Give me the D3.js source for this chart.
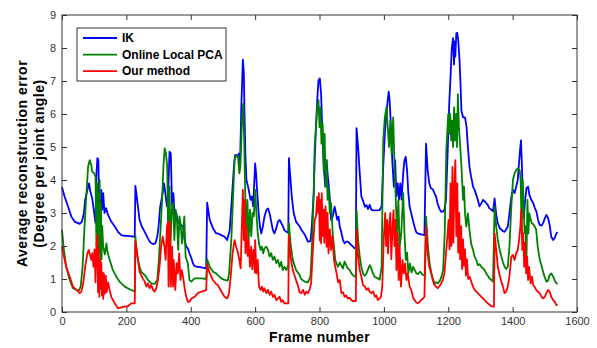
<!DOCTYPE html>
<html>
<head>
<meta charset="utf-8">
<script src="https://cdn.jsdelivr.net/npm/d3@7"></script>
<style>
  body { margin: 0; background: #fff; }
  svg text { font-family: "Liberation Sans", Arial, sans-serif; }
</style>
</head>
<body>
<div id="chart"></div>
<script>
// series: [frame, error]
const ik = [[0,3.78],[8,3.5],[19,3.19],[29,2.89],[39,2.74],[55,2.67],[62,2.74],[68,2.99],[72,3.4],[79,3.7],[84,3.9],[88,3.65],[94,3.44],[100,3.0],[104,2.7],[107,4.2],[110,4.66],[113,4.6],[116,3.0],[119,2.6],[122,3.7],[125,3.1],[128,3.6],[132,3.0],[137,3.15],[143,2.94],[153,2.74],[164,2.59],[174,2.43],[184,2.33],[195,2.31],[210,2.3],[226,2.28],[228,3.82],[236,3.19],[241,2.79],[248,2.59],[257,2.43],[267,2.23],[275,2.1],[283,2.06],[290,2.08],[296,2.28],[300,2.59],[305,3.19],[311,3.5],[317,3.9],[321,3.6],[326,3.2],[330,3.6],[334,4.86],[338,4.8],[342,3.2],[346,3.6],[350,2.9],[355,3.0],[360,2.74],[368,2.65],[376,2.59],[381,2.18],[386,1.98],[391,1.93],[396,1.78],[402,1.63],[407,1.47],[412,1.39],[422,1.37],[433,1.35],[448,1.32],[451,3.31],[459,2.79],[469,2.54],[479,2.38],[484,2.38],[495,2.33],[505,2.28],[513,2.18],[521,2.48],[528,3.49],[534,4.4],[538,4.76],[545,4.7],[549,4.8],[553,4.4],[557,6.2],[562,7.65],[565,7.23],[567,6.0],[570,4.7],[573,4.0],[578,3.8],[582,3.6],[586,3.4],[590,3.5],[594,3.2],[600,4.5],[603,4.2],[606,3.7],[611,2.99],[615,2.59],[619,2.38],[624,2.59],[629,2.89],[635,3.09],[640,3.14],[645,2.99],[650,2.74],[655,2.48],[660,2.38],[666,2.55],[671,2.74],[676,2.79],[681,2.7],[686,2.6],[691,2.48],[697,2.43],[703,2.4],[705,4.66],[710,4.0],[714,3.49],[720,2.99],[727,2.74],[738,2.6],[743,2.5],[754,2.35],[764,2.13],[772,2.15],[776,2.59],[782,3.6],[785,4.6],[789,5.6],[793,6.42],[797,7.03],[801,7.08],[805,6.6],[810,5.1],[814,4.3],[818,3.8],[822,4.6],[826,4.1],[831,3.6],[836,2.79],[841,2.89],[847,3.19],[851,3.0],[855,2.79],[859,2.89],[863,2.59],[868,2.4],[873,2.18],[878,2.08],[883,2.13],[888,2.13],[894,2.08],[899,2.03],[904,1.98],[909,1.93],[913,1.98],[915,5.57],[920,5.0],[925,4.2],[930,3.5],[936,3.35],[941,3.19],[946,3.24],[951,3.12],[956,3.25],[961,3.1],[967,3.08],[977,3.08],[987,3.09],[993,3.2],[998,4.4],[1003,5.41],[1008,6.0],[1012,6.42],[1015,6.68],[1018,6.4],[1022,5.6],[1026,4.6],[1031,3.8],[1035,4.6],[1039,3.5],[1043,3.9],[1047,3.4],[1051,3.9],[1055,3.4],[1060,4.2],[1064,4.6],[1068,4.7],[1072,4.3],[1076,3.6],[1080,3.19],[1085,2.99],[1090,2.79],[1095,2.59],[1100,2.43],[1105,2.38],[1116,2.35],[1126,2.33],[1131,5.1],[1136,4.3],[1141,3.9],[1146,3.75],[1152,3.72],[1157,3.6],[1162,3.5],[1167,3.29],[1172,3.14],[1178,3.04],[1184,3.04],[1188,3.1],[1193,3.4],[1198,4.8],[1203,6.3],[1207,7.1],[1211,7.99],[1215,8.3],[1218,7.5],[1220,8.2],[1222,7.74],[1225,8.44],[1228,8.46],[1231,8.24],[1235,7.64],[1238,6.93],[1241,6.1],[1246,5.9],[1252,5.9],[1257,5.6],[1261,5.0],[1266,4.4],[1271,4.1],[1277,3.8],[1282,3.7],[1287,3.55],[1292,3.4],[1297,3.2],[1303,3.3],[1308,3.4],[1313,3.35],[1318,3.3],[1323,3.24],[1328,3.14],[1334,3.1],[1339,3.05],[1344,3.44],[1349,2.95],[1354,2.69],[1360,2.54],[1365,2.5],[1370,2.45],[1375,2.43],[1380,2.5],[1385,2.59],[1390,2.99],[1396,3.49],[1401,3.7],[1406,3.6],[1411,3.8],[1416,4.0],[1419,4.4],[1423,4.9],[1426,5.2],[1429,4.4],[1432,3.4],[1435,2.89],[1439,3.4],[1443,3.75],[1448,3.8],[1452,3.55],[1458,3.4],[1464,3.3],[1469,3.15],[1474,3.04],[1479,2.79],[1484,2.64],[1490,2.62],[1495,2.7],[1500,2.84],[1505,2.94],[1510,2.85],[1515,2.64],[1520,2.28],[1526,2.18],[1531,2.25],[1536,2.38],[1540,2.42]];

const pca = [[0,2.48],[6,1.88],[13,1.37],[24,0.97],[34,0.72],[45,0.67],[52,0.65],[58,0.77],[64,1.37],[70,2.6],[76,3.6],[81,4.4],[86,4.6],[91,4.45],[94,4.25],[99,4.22],[104,4.1],[107,2.0],[109,3.9],[111,1.6],[113,3.6],[115,1.8],[117,4.0],[119,1.5],[121,3.3],[123,1.6],[125,2.6],[128,1.98],[133,1.75],[138,2.08],[141,1.83],[148,1.58],[158,1.27],[169,1.07],[179,0.92],[195,0.77],[210,0.69],[226,0.62],[228,2.3],[232,1.8],[236,1.6],[241,1.37],[246,1.22],[257,1.12],[267,0.97],[277,0.87],[288,0.85],[296,0.97],[301,1.58],[306,2.48],[311,3.4],[315,4.4],[319,4.96],[323,4.8],[327,4.4],[330,2.18],[334,3.8],[337,1.98],[341,3.1],[345,3.3],[349,2.18],[353,3.1],[357,2.8],[361,1.88],[365,2.9],[369,2.6],[373,2.08],[376,2.4],[380,2.9],[384,1.68],[391,1.47],[396,0.97],[402,0.92],[407,0.97],[412,1.02],[422,1.02],[433,1.02],[448,1.0],[451,1.6],[459,1.37],[469,1.22],[479,1.17],[484,1.12],[495,1.02],[505,0.97],[515,0.95],[519,1.17],[526,2.18],[531,3.39],[536,4.6],[541,4.76],[547,4.7],[551,4.2],[554,4.4],[559,5.72],[563,6.32],[566,5.2],[569,3.7],[572,2.1],[576,3.4],[580,2.2],[584,3.1],[588,2.3],[592,3.0],[596,2.9],[600,3.7],[604,3.0],[608,2.4],[612,2.08],[617,1.88],[621,1.98],[625,1.78],[629,1.93],[635,1.98],[640,1.88],[645,1.68],[650,1.78],[655,1.58],[660,1.68],[666,1.48],[671,1.58],[676,1.37],[681,1.52],[686,1.27],[691,1.37],[697,1.27],[703,1.42],[705,2.69],[710,2.08],[717,1.58],[727,1.27],[738,1.12],[743,1.0],[754,0.92],[764,0.9],[772,1.07],[777,2.08],[782,3.6],[785,5.0],[789,5.6],[793,6.2],[797,6.42],[800,5.6],[803,6.2],[806,5.1],[810,5.7],[813,4.3],[816,5.4],[819,3.8],[822,4.6],[825,3.4],[828,3.8],[832,3.0],[836,3.3],[841,2.38],[845,1.98],[849,1.58],[853,1.47],[857,1.37],[863,1.5],[868,1.4],[873,1.32],[878,1.53],[883,1.42],[888,1.32],[894,1.27],[899,1.17],[904,1.12],[909,1.07],[913,1.09],[915,3.09],[920,2.18],[925,1.68],[930,1.37],[935,1.17],[940,1.1],[945,1.15],[950,1.27],[956,1.42],[961,1.32],[966,1.17],[971,1.07],[981,1.02],[987,0.98],[993,1.37],[998,5.2],[1003,5.9],[1008,6.2],[1012,5.6],[1016,5.0],[1020,5.8],[1024,4.8],[1029,5.9],[1033,4.4],[1037,3.4],[1041,2.38],[1045,3.4],[1049,1.98],[1054,2.38],[1060,3.6],[1064,2.38],[1068,1.58],[1072,1.8],[1076,1.17],[1081,1.47],[1086,1.2],[1091,1.37],[1096,1.27],[1101,1.17],[1106,1.15],[1112,1.22],[1117,1.17],[1122,1.12],[1127,1.1],[1131,2.89],[1137,1.98],[1142,1.47],[1148,1.17],[1153,0.97],[1158,0.87],[1163,0.9],[1168,0.87],[1174,0.95],[1179,1.07],[1184,1.27],[1189,2.38],[1194,4.9],[1200,6.0],[1203,5.4],[1206,6.0],[1209,5.2],[1212,5.8],[1215,5.0],[1218,6.2],[1221,5.2],[1224,6.0],[1227,5.0],[1230,6.6],[1233,5.6],[1236,5.2],[1241,4.4],[1246,3.4],[1249,3.8],[1252,3.0],[1256,2.59],[1261,2.99],[1266,2.48],[1271,2.08],[1277,1.88],[1282,1.68],[1287,1.58],[1292,1.42],[1297,1.45],[1303,1.37],[1308,1.32],[1313,1.27],[1318,1.17],[1323,1.1],[1328,1.02],[1334,0.97],[1339,0.92],[1344,3.19],[1349,2.59],[1354,2.18],[1360,1.88],[1365,1.68],[1370,1.5],[1375,1.37],[1380,1.3],[1385,1.37],[1390,1.98],[1396,3.19],[1401,4.0],[1406,4.2],[1411,4.3],[1416,4.35],[1422,4.3],[1425,4.0],[1428,2.38],[1431,4.0],[1434,3.4],[1437,2.4],[1440,2.6],[1443,1.58],[1446,3.4],[1449,2.38],[1452,2.99],[1456,2.8],[1460,2.69],[1464,2.66],[1468,2.6],[1473,2.5],[1478,1.98],[1484,1.6],[1490,1.4],[1495,1.2],[1500,1.05],[1505,0.92],[1510,0.95],[1515,1.12],[1520,1.17],[1526,1.07],[1531,0.95],[1536,0.87],[1540,0.85]];

const ours = [[0,1.98],[6,1.68],[13,1.37],[24,1.07],[34,0.77],[45,0.67],[55,0.57],[60,0.62],[66,0.87],[72,1.37],[79,1.78],[83,1.88],[87,1.73],[91,1.58],[94,1.78],[98,1.37],[101,1.9],[104,0.9],[107,2.0],[110,2.33],[112,0.6],[114,1.9],[116,0.46],[118,1.6],[120,0.7],[122,1.5],[124,0.5],[126,1.2],[128,0.4],[130,1.17],[133,0.55],[136,1.1],[139,0.6],[143,0.9],[148,0.67],[153,0.46],[164,0.26],[174,0.11],[184,0.14],[195,0.16],[205,0.18],[215,0.26],[226,0.26],[228,2.15],[232,1.9],[236,1.58],[241,1.22],[246,1.12],[251,1.02],[257,0.92],[262,0.77],[267,0.87],[272,0.72],[277,0.82],[283,0.67],[288,0.62],[293,0.72],[298,0.97],[303,1.37],[308,1.98],[313,2.28],[318,2.0],[322,1.58],[326,2.6],[329,2.7],[331,0.77],[335,2.75],[338,0.77],[342,1.98],[345,0.77],[347,1.58],[352,0.67],[356,1.48],[360,1.17],[364,1.78],[368,0.97],[372,1.27],[376,1.07],[381,0.72],[386,0.46],[391,0.31],[396,0.31],[402,0.41],[412,0.46],[422,0.57],[433,0.62],[443,0.64],[448,0.67],[451,1.45],[459,1.17],[469,0.97],[479,0.85],[484,0.82],[495,0.62],[505,0.46],[513,0.41],[519,0.57],[524,1.07],[530,1.78],[536,2.18],[541,1.98],[547,1.78],[551,1.58],[555,1.32],[559,2.69],[562,3.7],[565,2.18],[567,3.4],[570,1.78],[573,2.6],[577,1.7],[580,2.18],[584,1.37],[588,1.98],[591,1.3],[595,1.88],[599,1.2],[600,2.18],[604,1.17],[608,1.58],[612,0.77],[617,0.67],[621,0.77],[625,0.62],[629,0.72],[635,0.57],[640,0.67],[645,0.52],[650,0.62],[655,0.46],[660,0.52],[666,0.36],[671,0.41],[676,0.46],[681,0.31],[686,0.36],[691,0.26],[697,0.26],[703,0.26],[705,2.33],[710,1.68],[717,1.27],[727,0.97],[733,0.8],[738,0.6],[743,0.57],[749,0.67],[754,0.52],[759,0.62],[764,0.57],[769,0.67],[774,0.87],[780,1.98],[785,2.79],[789,2.89],[793,3.49],[796,3.0],[798,3.6],[801,2.17],[803,3.4],[805,2.08],[807,3.6],[810,2.3],[813,3.1],[815,2.1],[819,3.2],[822,1.98],[825,3.0],[828,1.78],[832,2.5],[836,1.88],[840,2.3],[845,1.58],[849,1.37],[853,1.17],[858,0.9],[863,0.97],[868,0.57],[873,0.6],[878,0.46],[883,0.5],[888,0.41],[894,0.43],[899,0.36],[904,0.33],[909,0.34],[913,0.33],[915,2.5],[920,1.68],[925,1.27],[930,1.07],[935,0.82],[941,0.77],[946,0.67],[951,0.72],[956,0.62],[961,0.57],[967,0.62],[972,0.46],[977,0.5],[981,0.36],[987,0.41],[991,0.46],[995,0.77],[1000,2.28],[1004,3.0],[1007,2.0],[1010,2.79],[1013,1.78],[1016,2.59],[1020,3.0],[1023,1.6],[1027,2.59],[1030,3.09],[1033,2.0],[1036,2.79],[1039,1.27],[1043,2.38],[1046,0.97],[1049,1.98],[1053,0.77],[1058,1.58],[1062,1.17],[1066,1.47],[1070,0.97],[1074,1.17],[1080,0.77],[1085,0.67],[1090,0.46],[1095,0.36],[1100,0.3],[1105,0.26],[1110,0.3],[1116,0.36],[1121,0.4],[1126,0.46],[1131,2.6],[1136,1.78],[1141,1.37],[1147,1.17],[1152,0.97],[1157,0.82],[1162,0.77],[1167,0.72],[1172,0.77],[1178,0.87],[1183,0.97],[1188,1.17],[1193,1.78],[1198,2.38],[1201,2.79],[1204,1.9],[1207,3.9],[1210,2.0],[1213,4.4],[1216,2.1],[1219,3.8],[1222,4.6],[1225,2.3],[1228,3.9],[1231,1.8],[1234,3.0],[1237,1.6],[1240,2.6],[1243,1.3],[1246,2.2],[1249,1.4],[1252,1.9],[1255,1.1],[1258,1.6],[1262,1.0],[1267,1.07],[1272,0.9],[1277,0.77],[1282,0.67],[1287,0.62],[1292,0.57],[1297,0.52],[1303,0.46],[1308,0.41],[1313,0.36],[1318,0.31],[1323,0.26],[1328,0.22],[1334,0.18],[1339,0.16],[1342,0.16],[1344,2.38],[1349,1.88],[1354,1.37],[1360,1.1],[1365,0.92],[1370,0.77],[1375,0.57],[1380,0.62],[1385,0.77],[1390,1.07],[1396,1.68],[1401,1.73],[1406,1.58],[1411,1.78],[1416,1.88],[1420,2.18],[1424,2.59],[1427,3.1],[1430,1.88],[1433,2.38],[1436,1.37],[1439,2.1],[1442,1.17],[1445,1.68],[1448,0.97],[1451,1.37],[1456,0.87],[1460,1.07],[1464,0.82],[1468,0.77],[1473,0.67],[1478,0.62],[1484,0.57],[1490,0.46],[1495,0.41],[1500,0.46],[1505,0.57],[1510,0.67],[1515,0.62],[1520,0.46],[1526,0.36],[1531,0.31],[1536,0.21],[1540,0.22]];

const seriesNames = ['IK', 'Online Local PCA', 'Our method'];
const seriesColors = ['#0000ff', '#008000', '#ff0000'];
const xTicks = [0, 200, 400, 600, 800, 1000, 1200, 1400, 1600];
const yTicks = [0, 1, 2, 3, 4, 5, 6, 7, 8, 9];

const width = 597, height = 348;
const margin = { top: 15, right: 20, bottom: 36, left: 62 };

const svg = d3.select('#chart').append('svg')
  .attr('width', width)
  .attr('height', height);

svg.append('rect').attr('width', width).attr('height', height).attr('fill', '#fff');

const x = d3.scaleLinear().domain([0, 1600]).range([margin.left, width - margin.right]);
const y = d3.scaleLinear().domain([0, 9]).range([height - margin.bottom, margin.top]);

const axisColor = '#333';

// data lines (drawn first so the box sits on top)
const line = d3.line().x(d => x(d[0])).y(d => y(d[1]));
const plot = svg.append('g');
[ik, pca, ours].forEach((data, i) => {
  plot.append('path')
    .datum(data)
    .attr('d', line)
    .attr('fill', 'none')
    .attr('stroke', seriesColors[i])
    .attr('stroke-width', 1.8)
    .attr('stroke-linejoin', 'round');
});

// axes, ticks pointing inward like matlab
function styleAxis(g) {
  g.select('.domain').remove();
  g.selectAll('.tick line').attr('stroke', axisColor);
  g.selectAll('.tick text').attr('fill', axisColor).style('font-size', '11px');
}

svg.append('g')
  .attr('transform', `translate(0,${y(0)})`)
  .call(d3.axisBottom(x).tickValues(xTicks).tickSize(-5).tickPadding(5).tickFormat(d3.format('d')))
  .call(styleAxis);
svg.append('g')
  .attr('transform', `translate(0,${y(9)})`)
  .call(d3.axisTop(x).tickValues(xTicks).tickSize(-5).tickFormat(''))
  .call(styleAxis);
svg.append('g')
  .attr('transform', `translate(${x(0)},0)`)
  .call(d3.axisLeft(y).tickValues(yTicks).tickSize(-5).tickPadding(6).tickFormat(d3.format('d')))
  .call(styleAxis);
svg.append('g')
  .attr('transform', `translate(${x(1600)},0)`)
  .call(d3.axisRight(y).tickValues(yTicks).tickSize(-5).tickFormat(''))
  .call(styleAxis);

svg.append('rect')
  .attr('x', x(0)).attr('y', y(9))
  .attr('width', x(1600) - x(0)).attr('height', y(0) - y(9))
  .attr('fill', 'none').attr('stroke', axisColor).attr('stroke-width', 1);

// axis titles
svg.append('text')
  .attr('x', (x(0) + x(1600)) / 2).attr('y', 342)
  .attr('text-anchor', 'middle')
  .style('font-size', '14px').style('font-weight', 'bold')
  .style('letter-spacing', '0.3px')
  .text('Frame number');

const yTitle = svg.append('text')
  .attr('transform', `translate(0,${(y(0) + y(9)) / 2}) rotate(-90)`)
  .attr('text-anchor', 'middle')
  .style('font-size', '14px').style('font-weight', 'bold')
  .style('letter-spacing', '0.5px');
yTitle.append('tspan').attr('x', 0).attr('y', 27).text('Average reconstruction error');
yTitle.append('tspan').attr('x', 0).attr('y', 44).text('(Degree per joint angle)');

// legend
const legend = svg.append('g').attr('transform', 'translate(77,28)');
legend.append('rect')
  .attr('width', 149).attr('height', 53)
  .attr('fill', '#fff').attr('stroke', axisColor);
seriesNames.forEach((name, i) => {
  const ly = 10 + i * 16.6;
  legend.append('line')
    .attr('x1', 6).attr('x2', 40).attr('y1', ly).attr('y2', ly)
    .attr('stroke', seriesColors[i]).attr('stroke-width', 1.8);
  legend.append('text')
    .attr('x', 45).attr('y', ly).attr('dy', '0.35em')
    .style('font-size', '12px').style('font-weight', 'bold')
    .text(name);
});
</script>
</body>
</html>
